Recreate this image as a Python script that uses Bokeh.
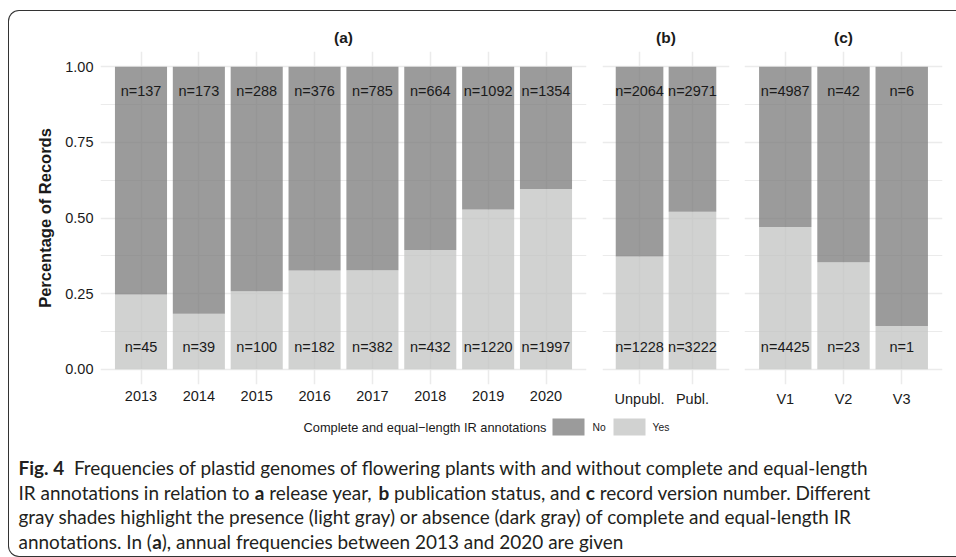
import glob
import os
import struct

from bokeh.core.properties import value
from bokeh.embed import file_html
from bokeh.layouts import column, row
from bokeh.models import (ColumnDataSource, FactorRange, FixedTicker, InlineStyleSheet,
                          Label, Range1d)
from bokeh.plotting import figure
from bokeh.resources import INLINE

# ---------------------------------------------------------------- data
years = ["2013", "2014", "2015", "2016", "2017", "2018", "2019", "2020"]
years_no = [137, 173, 288, 376, 785, 664, 1092, 1354]
years_yes = [45, 39, 100, 182, 382, 432, 1220, 1997]

pub_status = ["Unpubl.", "Publ."]
pub_no = [2064, 2971]
pub_yes = [1228, 3222]

versions = ["V1", "V2", "V3"]
ver_no = [4987, 42, 6]
ver_yes = [4425, 23, 1]

panel_titles = ["(a)", "(b)", "(c)"]
y_ticks = [0.0, 0.25, 0.5, 0.75, 1.0]
y_minor_ticks = [0.125, 0.375, 0.625, 0.875]
y_tick_labels = ["0.00", "0.25", "0.50", "0.75", "1.00"]
y_title = "Percentage of Records"
legend_title = "Complete and equal\u2212length IR annotations"
legend_labels = ["No", "Yes"]

# caption: (text, bold, spaces before)
caption_lines = [
    [("Fig. 4", True, 0), ("Frequencies of plastid genomes of flowering plants with and without complete and equal-length", False, 2)],
    [("IR annotations in relation to", False, 0), ("a", True, 1), ("release year,", False, 1),
     ("b", True, 1), ("publication status, and", False, 1), ("c", True, 1),
     ("record version number. Different", False, 1)],
    [("gray shades highlight the presence (light gray) or absence (dark gray) of complete and equal-length IR", False, 0)],
    [("annotations. In (", False, 0), ("a", True, 0), ("), annual frequencies between 2013 and 2020 are given", False, 0)],
]

# ---------------------------------------------------------------- style
DARK = "#7a7a7a"      # seen through BAR_ALPHA as ~#9b9b9b
LIGHT = "#c2c3c2"     # seen through BAR_ALPHA as ~#d1d2d1
BAR_ALPHA = 0.75
GRID = "#ebebeb"
TXT = "#1a1a1a"
FONT = "Liberation Sans"
CAP_FONT = "Lato"
TOP_H = 410
CAP_H = 557 - TOP_H
CAP_LEFT = 18
CAP_LINE_ENDS = [927, 857, 880, 563]      # approximate right ends of the caption lines
CAP_LINE_Y = [467, 492, 516, 541]


# ------------------------------------------------ caption text metrics
def font_widths(path, chars):
    with open(path, "rb") as fh:
        data = fh.read()
    n_tables = struct.unpack(">H", data[4:6])[0]
    tables = {}
    for i in range(n_tables):
        rec = data[12 + 16 * i: 28 + 16 * i]
        tables[rec[:4].decode("latin-1")] = struct.unpack(">I", rec[8:12])[0]
    head, hhea, hmtx, cmap = tables["head"], tables["hhea"], tables["hmtx"], tables["cmap"]
    upem = struct.unpack(">H", data[head + 18: head + 20])[0]
    n_hm = struct.unpack(">H", data[hhea + 34: hhea + 36])[0]
    advs = [struct.unpack(">H", data[hmtx + 4 * i: hmtx + 4 * i + 2])[0] for i in range(n_hm)]
    n_sub = struct.unpack(">H", data[cmap + 2: cmap + 4])[0]
    out = {}
    for i in range(n_sub):
        pid, eid, soff = struct.unpack(">HHI", data[cmap + 4 + 8 * i: cmap + 12 + 8 * i])
        st = cmap + soff
        if struct.unpack(">H", data[st: st + 2])[0] != 4:
            continue
        seg2 = struct.unpack(">H", data[st + 6: st + 8])[0]
        seg = seg2 // 2
        ends = struct.unpack(">%dH" % seg, data[st + 14: st + 14 + seg2])
        starts = struct.unpack(">%dH" % seg, data[st + 16 + seg2: st + 16 + 2 * seg2])
        deltas = struct.unpack(">%dh" % seg, data[st + 16 + 2 * seg2: st + 16 + 3 * seg2])
        ro_base = st + 16 + 3 * seg2
        ros = struct.unpack(">%dH" % seg, data[ro_base: ro_base + seg2])
        for ch in chars:
            c = ord(ch)
            for k in range(seg):
                if starts[k] <= c <= ends[k]:
                    if ros[k] == 0:
                        g = (c + deltas[k]) & 0xFFFF
                    else:
                        gp = ro_base + 2 * k + ros[k] + 2 * (c - starts[k])
                        g = struct.unpack(">H", data[gp: gp + 2])[0]
                        if g:
                            g = (g + deltas[k]) & 0xFFFF
                    out[ch] = advs[min(g, n_hm - 1)] / upem
                    break
        if out:
            break
    return out


def find_font(fname):
    for root in ["/usr/share/fonts", "/usr/local/share/fonts", os.path.expanduser("~/.fonts")]:
        for path in glob.glob(root + "/**/" + fname, recursive=True):
            return path
    return None


all_chars = set(" ")
for line in caption_lines:
    for seg in line:
        all_chars |= set(seg[0])
metrics = {}
for key, fname in [(False, "Lato-Regular.ttf"), (True, "Lato-Bold.ttf")]:
    try:
        metrics[key] = font_widths(find_font(fname), all_chars)
    except Exception:
        metrics[key] = {}


def text_em(text, bold):
    table = metrics[bold]
    return sum(table.get(ch, 0.52 if bold else 0.49) for ch in text)


SPACE_EM = metrics[False].get(" ", 0.26)


def line_layout(line):
    pos, x = [], 0.0
    for text, bold, gap in line:
        x += gap * SPACE_EM
        pos.append(x)
        x += text_em(text, bold)
    return pos, x


line_ems = [line_layout(line)[1] for line in caption_lines]
CAP_SIZE = sum(e - CAP_LEFT for e in CAP_LINE_ENDS) / sum(line_ems)


# ---------------------------------------------------------------- panels
def make_panel(cats, no, yes, title, width, b_left, b_right, show_y):
    yes_frac = [y / (y + n) for y, n in zip(yes, no)]
    src = ColumnDataSource(dict(
        cat=cats, frac=yes_frac,
        no_lab=["n=%d" % v for v in no], yes_lab=["n=%d" % v for v in yes],
        top_y=[0.92] * len(cats), bot_y=[0.075] * len(cats)))
    p = figure(width=width, height=TOP_H,
               x_range=FactorRange(factors=cats, range_padding=0.2, range_padding_units="absolute"),
               y_range=Range1d(-0.05, 1.05),
               output_backend="svg", toolbar_location=None,
               min_border_left=b_left, min_border_right=b_right,
               min_border_top=51, min_border_bottom=TOP_H - 384,
               title=title)
    p.title.align = "center"
    p.title.text_font = FONT
    p.title.text_font_size = "15.5px"
    p.title.text_font_style = "bold"
    p.title.text_color = TXT
    p.title.standoff = 11
    p.outline_line_color = None
    p.background_fill_color = "white"
    p.border_fill_color = "white"

    p.vbar(x="cat", bottom=0, top="frac", width=0.9, source=src,
           fill_color=LIGHT, fill_alpha=BAR_ALPHA, line_color=None)
    p.vbar(x="cat", bottom="frac", top=1.0, width=0.9, source=src,
           fill_color=DARK, fill_alpha=BAR_ALPHA, line_color=None)
    p.text(x="cat", y="top_y", text="no_lab", source=src,
           text_align="center", text_baseline="middle",
           text_font=value(FONT), text_font_size="14.5px", text_color=TXT)
    p.text(x="cat", y="bot_y", text="yes_lab", source=src,
           text_align="center", text_baseline="middle",
           text_font=value(FONT), text_font_size="14.5px", text_color=TXT)

    ticker = FixedTicker(ticks=y_ticks, minor_ticks=y_minor_ticks)
    p.yaxis.ticker = ticker
    p.ygrid.ticker = ticker
    p.ygrid.grid_line_color = GRID
    p.ygrid.grid_line_width = 1.5
    p.ygrid.minor_grid_line_color = GRID
    p.ygrid.minor_grid_line_width = 1.0
    p.xgrid.grid_line_color = GRID
    p.xgrid.grid_line_width = 1.5

    p.xaxis.axis_line_color = None
    p.xaxis.major_tick_line_color = None
    p.xaxis.minor_tick_line_color = None
    p.xaxis.major_tick_out = 0
    p.xaxis.major_label_standoff = 6
    p.xaxis.major_label_text_font = FONT
    p.xaxis.major_label_text_font_size = "14.5px"
    p.xaxis.major_label_text_color = TXT

    if show_y:
        p.yaxis.major_label_overrides = dict(zip(y_ticks, y_tick_labels))
        p.yaxis.axis_line_color = None
        p.yaxis.major_tick_line_color = None
        p.yaxis.minor_tick_line_color = None
        p.yaxis.major_tick_out = 0
        p.yaxis.minor_tick_out = 0
        p.yaxis.major_label_standoff = 7
        p.yaxis.major_label_text_font = FONT
        p.yaxis.major_label_text_font_size = "14.5px"
        p.yaxis.major_label_text_color = TXT
        p.yaxis.axis_label = y_title
        p.yaxis.axis_label_text_font = FONT
        p.yaxis.axis_label_text_font_size = "16.5px"
        p.yaxis.axis_label_text_font_style = "bold"
        p.yaxis.axis_label_text_color = TXT
        p.yaxis.axis_label_standoff = 8
    else:
        p.yaxis.visible = False
    return p


fa = make_panel(years, years_no, years_yes, panel_titles[0], 594, 100, 8, True)
fb = make_panel(pub_status, pub_no, pub_yes, panel_titles[1], 142, 8, 7, False)
fc = make_panel(versions, ver_no, ver_yes, panel_titles[2], 220, 8, 14, False)

# ---------------------------------------------------------------- legend + caption
fcap = figure(width=956, height=CAP_H, x_range=Range1d(0, 956), y_range=Range1d(CAP_H, 0),
              output_backend="svg", toolbar_location=None, min_border=0,
              x_axis_type=None, y_axis_type=None)
fcap.xgrid.visible = False
fcap.ygrid.visible = False
fcap.outline_line_color = None
fcap.background_fill_color = "white"
fcap.border_fill_color = "white"

ly = 427 - TOP_H
fcap.add_layout(Label(x=546, y=ly, text=legend_title, text_align="right", text_baseline="middle",
                      text_font=FONT, text_font_size="12.8px", text_color=TXT))
key_src = ColumnDataSource(dict(left=[552, 613], right=[584, 645], lab=legend_labels,
                                color=[DARK, LIGHT], lx=[592, 652]))
fcap.quad(left="left", right="right", top=418 - TOP_H, bottom=435 - TOP_H,
          fill_color="color", fill_alpha=BAR_ALPHA, line_color=None, source=key_src)
fcap.text(x="lx", y=ly, text="lab", source=key_src, text_baseline="middle",
          text_font=value(FONT), text_font_size="10.3px", text_color=TXT)

for line, yc in zip(caption_lines, CAP_LINE_Y):
    pos, _ = line_layout(line)
    for (text, bold, gap), x_em in zip(line, pos):
        fcap.add_layout(Label(x=CAP_LEFT + x_em * CAP_SIZE, y=yc - TOP_H, text=text,
                              text_align="left", text_baseline="middle",
                              text_font=CAP_FONT, text_font_size="%.2fpx" % CAP_SIZE,
                              text_font_style="bold" if bold else "normal",
                              text_color="#231f20"))

frame_css = InlineStyleSheet(css="""
:host { position: relative; }
:host::after {
  content: "";
  position: absolute;
  left: 8px; top: 10px; right: 0px; bottom: 0px;
  border: 1.3px solid #333333;
  border-right: none;
  border-radius: 11px 0 0 11px;
  pointer-events: none;
  z-index: 10;
}
""")

layout = column(row(fa, fb, fc), fcap, stylesheets=[frame_css])
with open("out.html", "w") as fh:
    fh.write(file_html(layout, INLINE))
